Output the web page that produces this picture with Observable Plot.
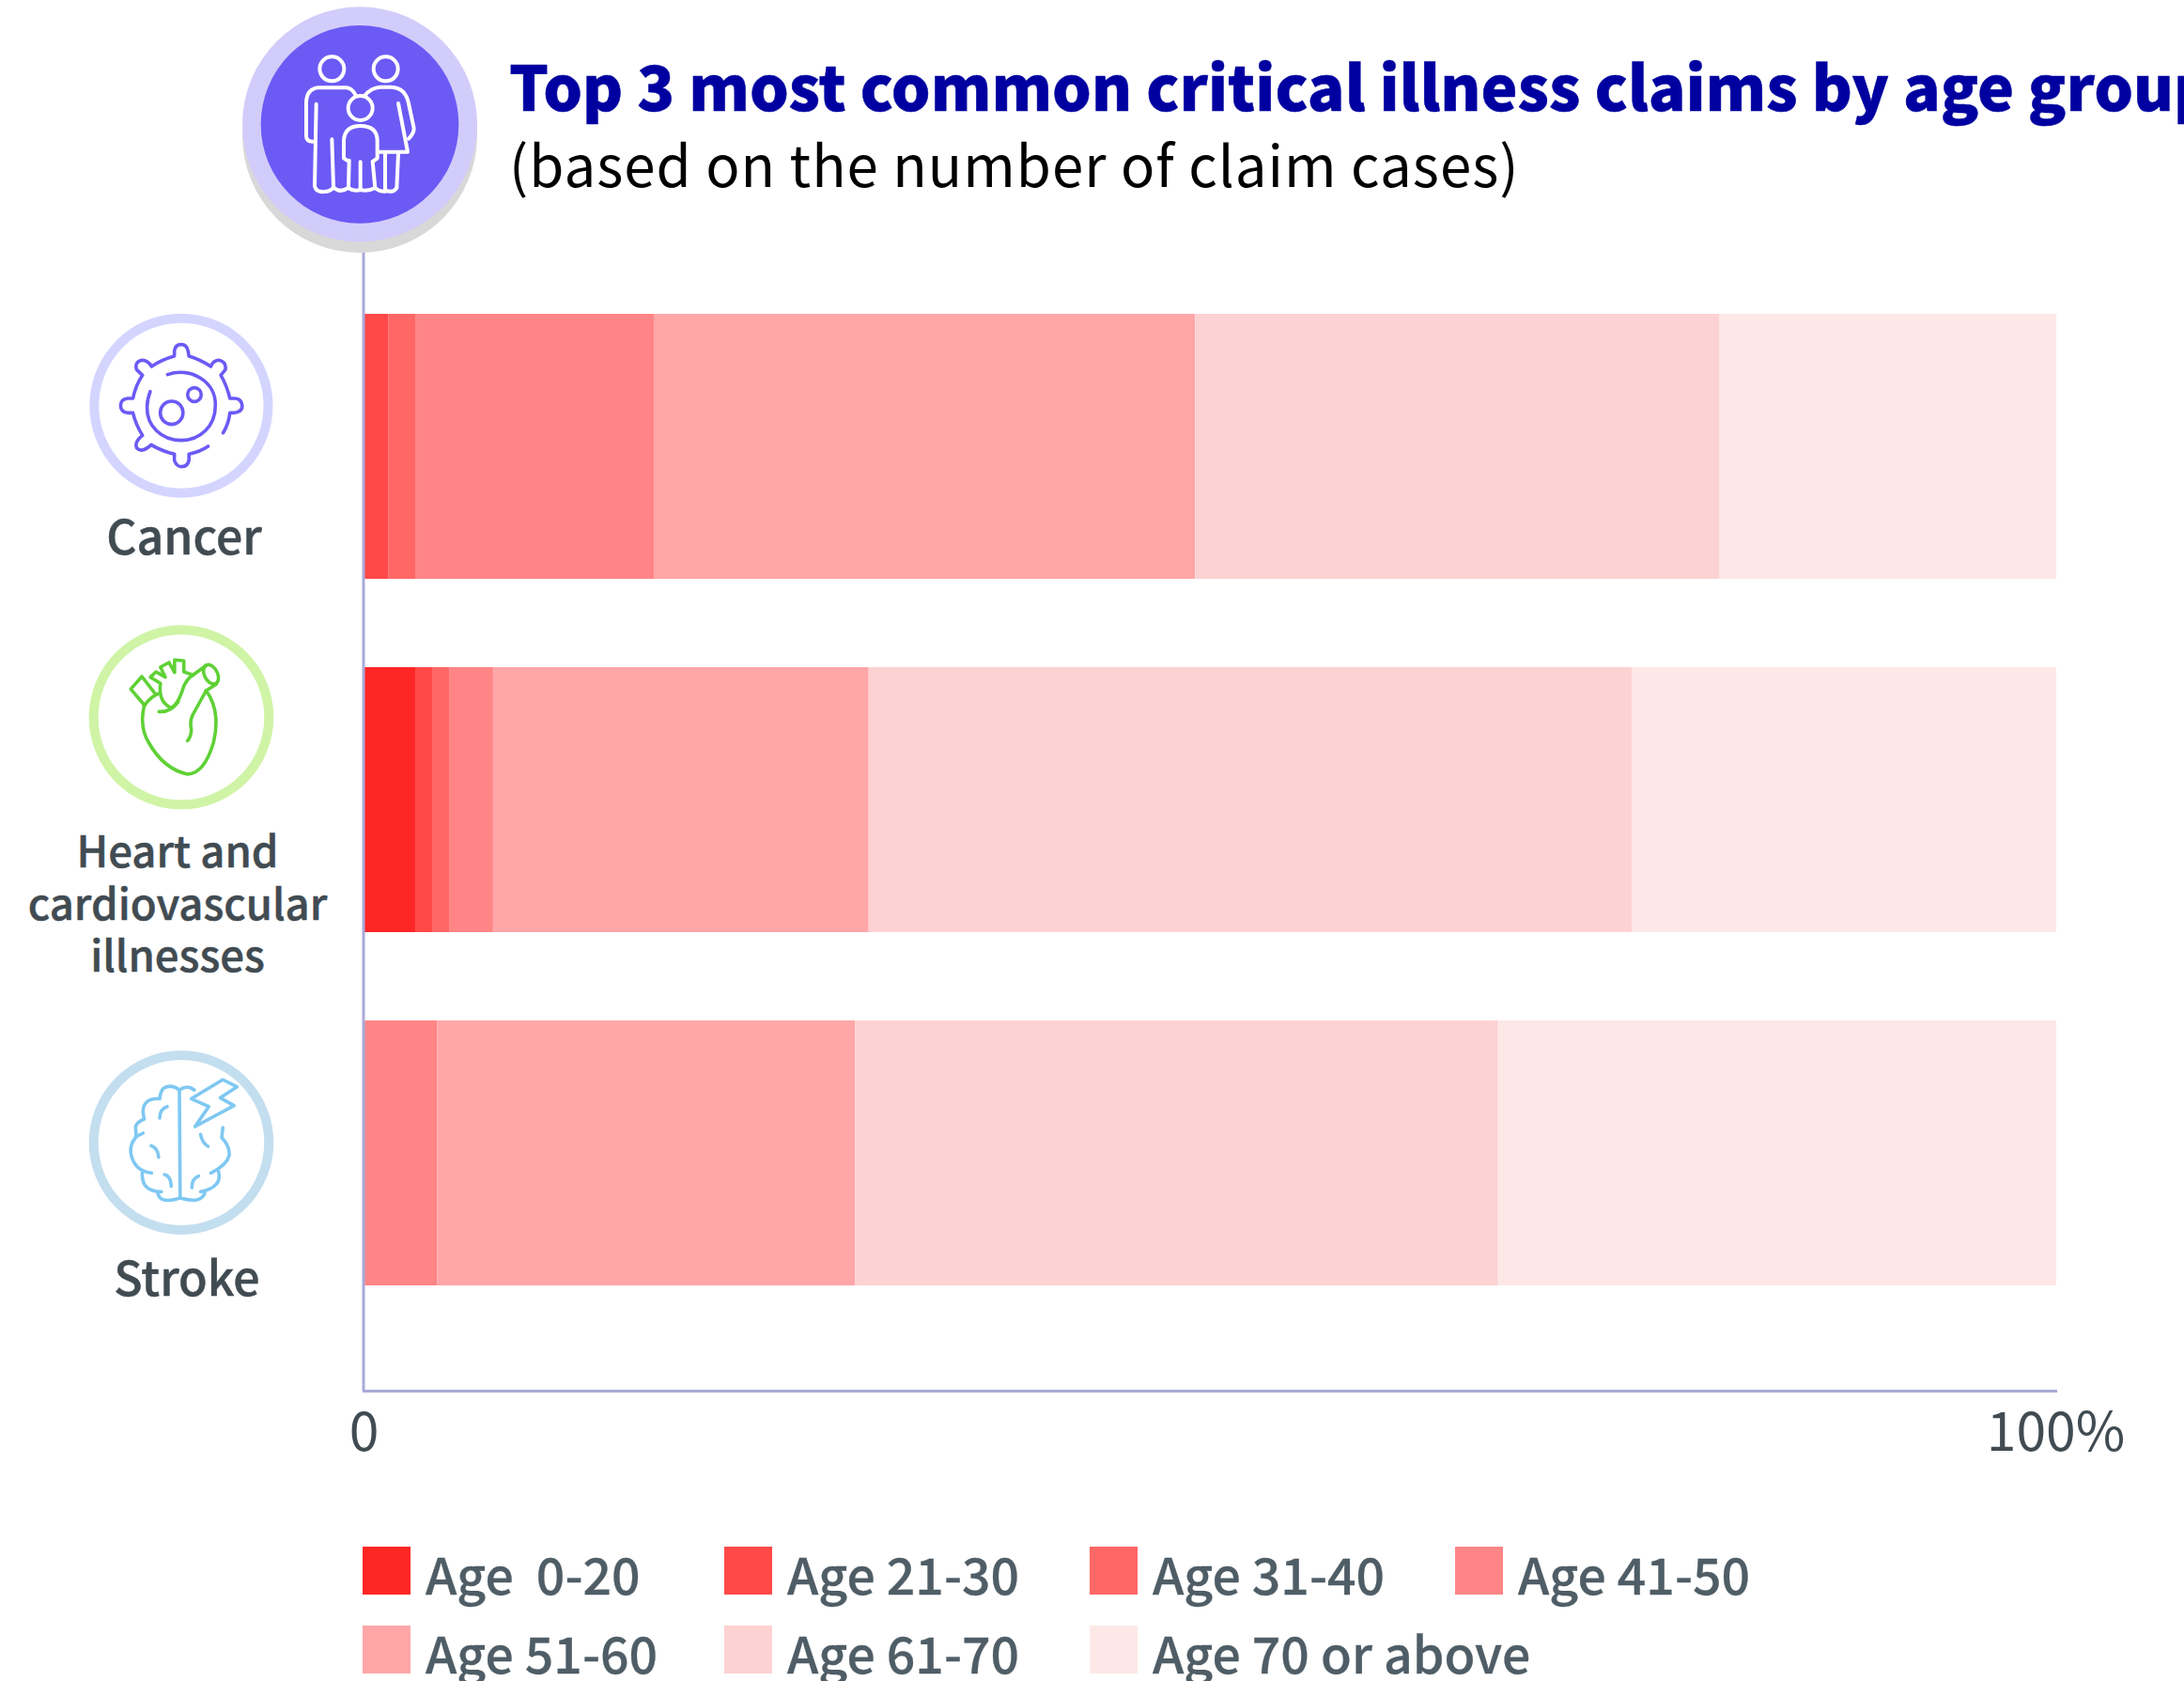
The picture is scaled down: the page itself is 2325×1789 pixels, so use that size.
<!DOCTYPE html>
<html><head><meta charset="utf-8">
<script src="https://cdn.jsdelivr.net/npm/d3@7"></script>
<script src="https://cdn.jsdelivr.net/npm/@observablehq/plot@0.6"></script>
<style>
html,body{margin:0;padding:0;background:#fff;width:2325px;height:1789px;overflow:hidden;position:relative;font-family:"Noto Sans CJK TC","Noto Sans",sans-serif}
#chart{position:absolute;left:0;top:0}
#chart svg{display:block;max-width:none}
.abs{position:absolute;white-space:nowrap;line-height:1}
#title{left:542px;top:57px;font-size:65.7px;font-weight:900;color:#0000a0;-webkit-text-stroke:0.5px #0000a0}
#sub{left:542px;top:143px;font-size:60px;font-weight:400;color:#000;letter-spacing:1px}
.cat{color:#414b52;font-size:50px;font-weight:500;text-align:center;line-height:55.5px;-webkit-text-stroke:0.5px #414b52}
#c1{font-size:45.5px}
.leg{color:#4f5d66;font-size:53.6px;font-weight:500;-webkit-text-stroke:0.3px #4f5d66}
.sw{position:absolute;width:51px;height:51px}
svg.icon{position:absolute;overflow:visible;fill:none}
svg.icon *{vector-effect:non-scaling-stroke;stroke-linecap:round;stroke-linejoin:round}
</style></head><body>
<div id="chart"></div>
<svg class="icon" style="left:240px;top:0;width:500px;height:300px" viewBox="0 0 1500 900" preserveAspectRatio="none">
  <circle cx="429" cy="432" r="375" fill="#d8d8d8"/>
  <circle cx="429" cy="397" r="375" fill="#d2ccfa"/>
  <circle cx="429" cy="397" r="316" fill="#6c5af5"/>
  <g stroke="#fff" stroke-width="4">
    <circle cx="340" cy="220" r="39"/><circle cx="512" cy="220" r="39"/><circle cx="431" cy="345" r="39"/>
    <path d="M415,302Q402,280 385,280L295,280Q258,285 258,330L258,435Q258,452 280,452"/>
    <path d="M290,332L285,595Q290,615 315,612Q335,612 345,598Q365,618 392,600Q410,612 431,606Q455,612 478,600Q495,615 520,610Q538,615 547,600"/>
    <path d="M340,445L345,598"/>
    <path d="M388,512L378,505L378,450Q380,402 431,402Q485,402 485,450L485,505L472,515"/>
    <path d="M395,512L393,600M431,517L431,606M470,515L478,600"/>
    <path d="M445,305Q465,280 495,278L530,278Q575,280 585,330L602,410Q602,425 585,443"/>
    <path d="M552,330L582,485L490,485M510,490L510,610M552,490L547,600"/>
  </g>
</svg>
<svg class="icon" style="left:0;top:310px;width:760px;height:320px" viewBox="0 0 1568 960" preserveAspectRatio="none">
  <ellipse cx="398" cy="365" rx="191" ry="279" stroke="#d3d5ff" stroke-width="10"/>
  <g stroke="#6c5af5" stroke-width="3.6">
    <path d="M490,452Q502,425 505,388L515,388Q532,385 532,365Q530,342 515,342L505,342Q498,300 485,268L495,250Q498,225 480,220Q468,222 463,240Q440,218 415,207L413,190Q410,170 398,170Q385,170 383,190L383,207Q355,218 333,240Q325,220 312,220Q295,225 300,250L313,268Q298,300 292,342L280,342Q265,345 265,365Q265,385 280,388L292,388Q298,425 313,460Q295,480 300,500Q312,518 332,490Q355,510 383,520L383,540Q388,560 398,560Q412,560 415,540L415,520Q440,512 457,495"/>
    <path d="M368,266C420,240 475,290 473,365C473,430 440,476 398,476C355,476 322,430 323,370C323,350 326,335 330,320"/>
    <ellipse cx="377" cy="388" rx="25" ry="37"/><ellipse cx="427" cy="330" rx="15" ry="22"/>
  </g>
</svg>
<svg class="icon" style="left:0;top:650px;width:620px;height:400px" viewBox="0 0 1568 1200" preserveAspectRatio="none">
  <ellipse cx="488" cy="340" rx="236" ry="279" stroke="#cff4a6" stroke-width="10"/>
  <g stroke="#5fd135" stroke-width="3.6">
    <path d="M388,305Q375,370 400,420Q440,505 505,522Q550,520 575,420Q595,320 555,255"/>
    <path d="M388,305Q400,280 425,265M555,255L520,330Q510,350 515,380Q515,400 505,415"/>
    <path d="M388,300L352,250L382,210L420,268"/>
    <path d="M405,212L432,232Q425,290 460,310Q480,300 495,240Q505,215 520,205L495,195L495,160L470,157L470,197L455,165L432,180L445,212L420,195Z"/>
    <path d="M520,205L555,175M555,255L582,235"/>
    <ellipse cx="568" cy="203" rx="18" ry="32" transform="rotate(-20 568 203)"/>
    <path d="M428,322Q460,325 480,290"/>
  </g>
</svg>
<svg class="icon" style="left:0;top:1080px;width:620px;height:340px" viewBox="0 0 1568 1020" preserveAspectRatio="none">
  <ellipse cx="488" cy="408" rx="236" ry="279" stroke="#c3deef" stroke-width="10"/>
  <g stroke="#7fc8f2" stroke-width="3.6">
    <path d="M483,240L485,582"/>
    <path d="M483,240Q460,220 440,235Q432,245 430,268Q385,265 385,310L388,333Q365,345 365,360L367,390Q350,410 352,440Q360,498 408,505"/>
    <path d="M383,505Q380,565 435,565M425,570Q430,605 485,585M385,378L365,390M450,293Q430,300 430,330M407,418Q425,425 427,455M443,510Q460,515 461,547"/>
    <path d="M483,240Q505,222 523,240M600,360L597,392Q620,420 617,450Q610,480 568,505M588,500Q600,550 540,565M552,565Q545,605 485,585M540,382Q545,410 560,420M535,515Q515,525 517,552"/>
    <path d="M515,268L600,207L638,230L593,265L630,290L525,357L562,293Z"/>
  </g>
</svg>
<div class="abs" id="title">Top 3 most common critical illness claims by age group</div>
<div class="abs" id="sub">(based on the number of claim cases)</div>
<div class="abs cat" id="c0" style="left:96px;width:200px;top:541px">Cancer</div>
<div class="abs cat" id="c1" style="left:0;width:378px;top:876px">Heart and<br>cardiovascular<br>illnesses</div>
<div class="abs cat" id="c2" style="left:99px;width:200px;top:1330px">Stroke</div>
<div id="legend"></div>
<script>
const categories = ["Cancer", "Heart and cardiovascular illnesses", "Stroke"];
const ageGroups = ["Age  0-20", "Age 21-30", "Age 31-40", "Age 41-50", "Age 51-60", "Age 61-70", "Age 70 or above"];
const ageColors = ["#ff2626", "#ff4848", "#ff6666", "#ff8587", "#ffa6a8", "#fdd2d3", "#fde8e7"];
const cancerShares = [0, 1.4, 1.6, 14.1, 32, 31, 19.9];
const heartShares = [3, 1, 1, 2.6, 22.2, 45.1, 25.1];
const strokeShares = [0, 0, 0, 4.3, 24.7, 38, 33];
const tickLabels = {0: "0", 100: "100%"};

const series = [cancerShares, heartShares, strokeShares];
const rows = categories.flatMap((category, i) => ageGroups.map((age, j) => ({category, age, share: series[i][j]})));
const axisColor = "#a9a9d9";

const plot = Plot.plot({
  width: 2325, height: 1789,
  marginLeft: 388, marginRight: 136, marginTop: 257, marginBottom: 309,
  style: {fontFamily: '"Noto Sans CJK TC","Noto Sans",sans-serif', background: "transparent"},
  x: {domain: [0, 100]},
  y: {domain: categories, range: [287, 1415], paddingInner: 0.25, paddingOuter: 0.125, round: false, axis: null},
  color: {domain: ageGroups, range: ageColors},
  marks: [
    Plot.barX(rows, {x: "share", y: "category", fill: "age"}),
    Plot.ruleX([0], {stroke: axisColor, strokeWidth: 3, dx: -1.5}),
    Plot.frame({anchor: "bottom", stroke: axisColor, strokeWidth: 3, dx: -1}),
    Plot.axisX({ticks: [0, 100], tickSize: 0, tickPadding: 23, fontSize: 57, fill: "#414b52", label: null, dx: -1, tickFormat: d => tickLabels[d]})
  ]
});
document.getElementById("chart").append(plot);

const legendCols = [386, 771, 1160, 1549];
const legendRows = [1646, 1730];
const legend = document.getElementById("legend");
ageGroups.forEach((age, i) => {
  const c = legendCols[i % 4], r = legendRows[Math.floor(i / 4)];
  const sw = document.createElement("div");
  sw.className = "sw"; sw.style.cssText = `left:${c}px;top:${r}px;background:${ageColors[i]}`;
  const t = document.createElement("div");
  t.className = "abs leg"; t.style.cssText = `left:${c + 67}px;top:${r + 1}px;white-space:pre`;
  t.textContent = age;
  legend.append(sw, t);
});
</script>
</body></html>
